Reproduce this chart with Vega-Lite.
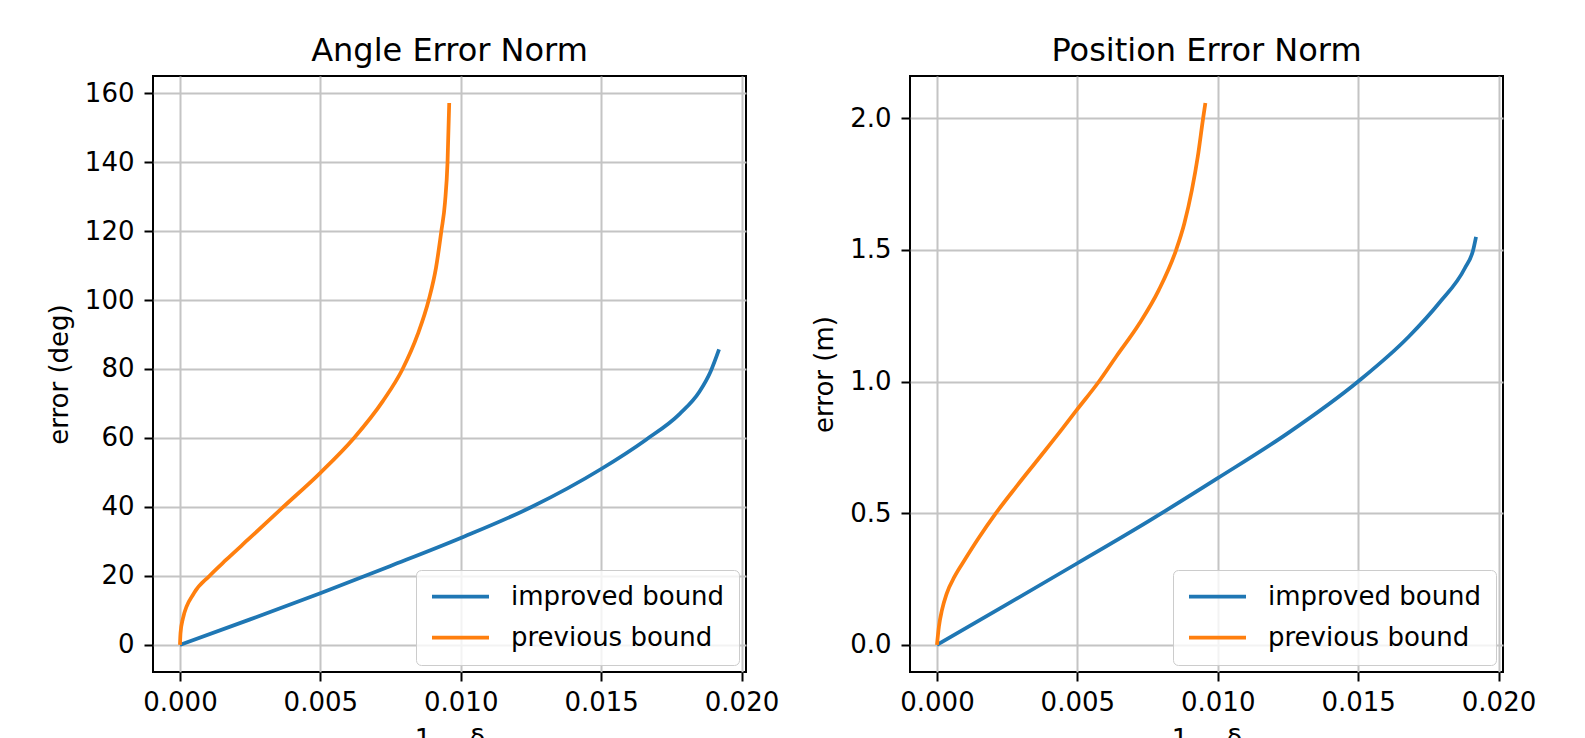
{
  "$schema": "https://vega.github.io/schema/vega-lite/v6.json",
  "padding": {"left": 45, "top": 34, "right": 5, "bottom": 0},
  "background": "white",
  "datasets": {
    "angle": [
      {"series": "improved bound", "x": 0, "y": 0},
      {"series": "improved bound", "x": 0.0025, "y": 7.4},
      {"series": "improved bound", "x": 0.005, "y": 15.0},
      {"series": "improved bound", "x": 0.0075, "y": 22.9},
      {"series": "improved bound", "x": 0.010, "y": 31.0},
      {"series": "improved bound", "x": 0.0125, "y": 39.9},
      {"series": "improved bound", "x": 0.015, "y": 51.0},
      {"series": "improved bound", "x": 0.0166, "y": 59.5},
      {"series": "improved bound", "x": 0.0178, "y": 67.0},
      {"series": "improved bound", "x": 0.0185, "y": 73.4},
      {"series": "improved bound", "x": 0.0189, "y": 79.3},
      {"series": "improved bound", "x": 0.0192, "y": 85.7},
      {"series": "previous bound", "x": 0, "y": 0},
      {"series": "previous bound", "x": 0.00002, "y": 3.4},
      {"series": "previous bound", "x": 0.0001, "y": 7.5},
      {"series": "previous bound", "x": 0.0005, "y": 15.0},
      {"series": "previous bound", "x": 0.00105, "y": 20.0},
      {"series": "previous bound", "x": 0.00165, "y": 24.7},
      {"series": "previous bound", "x": 0.00249, "y": 31.0},
      {"series": "previous bound", "x": 0.00368, "y": 40.0},
      {"series": "previous bound", "x": 0.005, "y": 49.9},
      {"series": "previous bound", "x": 0.0062, "y": 60.0},
      {"series": "previous bound", "x": 0.00722, "y": 70.6},
      {"series": "previous bound", "x": 0.00793, "y": 80.0},
      {"series": "previous bound", "x": 0.00847, "y": 90.1},
      {"series": "previous bound", "x": 0.00886, "y": 100.0},
      {"series": "previous bound", "x": 0.00912, "y": 109.4},
      {"series": "previous bound", "x": 0.00931, "y": 120.0},
      {"series": "previous bound", "x": 0.00944, "y": 128.3},
      {"series": "previous bound", "x": 0.00953, "y": 140.0},
      {"series": "previous bound", "x": 0.00959, "y": 157.1}
    ],
    "position": [
      {"series": "improved bound", "x": 0, "y": 0},
      {"series": "improved bound", "x": 0.00246, "y": 0.152},
      {"series": "improved bound", "x": 0.005, "y": 0.31},
      {"series": "improved bound", "x": 0.00754, "y": 0.47},
      {"series": "improved bound", "x": 0.010, "y": 0.633},
      {"series": "improved bound", "x": 0.0125, "y": 0.804},
      {"series": "improved bound", "x": 0.015, "y": 1.0},
      {"series": "improved bound", "x": 0.0168, "y": 1.17},
      {"series": "improved bound", "x": 0.0179, "y": 1.3},
      {"series": "improved bound", "x": 0.0188, "y": 1.43},
      {"series": "improved bound", "x": 0.0191, "y": 1.5},
      {"series": "improved bound", "x": 0.0192, "y": 1.549},
      {"series": "previous bound", "x": 0, "y": 0},
      {"series": "previous bound", "x": 0.00007, "y": 0.07},
      {"series": "previous bound", "x": 0.00018, "y": 0.133},
      {"series": "previous bound", "x": 0.00035, "y": 0.196},
      {"series": "previous bound", "x": 0.00063, "y": 0.26},
      {"series": "previous bound", "x": 0.00099, "y": 0.323},
      {"series": "previous bound", "x": 0.00145, "y": 0.4},
      {"series": "previous bound", "x": 0.0021, "y": 0.5},
      {"series": "previous bound", "x": 0.00282, "y": 0.6},
      {"series": "previous bound", "x": 0.00359, "y": 0.703},
      {"series": "previous bound", "x": 0.00444, "y": 0.817},
      {"series": "previous bound", "x": 0.00498, "y": 0.892},
      {"series": "previous bound", "x": 0.00577, "y": 1.0},
      {"series": "previous bound", "x": 0.00638, "y": 1.094},
      {"series": "previous bound", "x": 0.00721, "y": 1.22},
      {"series": "previous bound", "x": 0.0079, "y": 1.347},
      {"series": "previous bound", "x": 0.00852, "y": 1.5},
      {"series": "previous bound", "x": 0.00881, "y": 1.6},
      {"series": "previous bound", "x": 0.00908, "y": 1.727},
      {"series": "previous bound", "x": 0.00929, "y": 1.854},
      {"series": "previous bound", "x": 0.00948, "y": 2.0},
      {"series": "previous bound", "x": 0.00956, "y": 2.057}
    ]
  },
  "hconcat": [
    {
      "width": 593,
      "height": 596,
      "title": {"text": "Angle Error Norm"},
      "data": {"name": "angle"},
      "mark": {"type": "line", "strokeWidth": 3.75, "clip": true, "interpolate": "monotone"},
      "encoding": {
        "x": {
          "field": "x", "type": "quantitative", "title": "1 − δ",
          "scale": {"domain": [-0.00096, 0.02016], "nice": false, "zero": false},
          "axis": {"values": [0, 0.005, 0.01, 0.015, 0.02], "format": ".3f"}
        },
        "y": {
          "field": "y", "type": "quantitative", "title": "error (deg)",
          "scale": {"domain": [-7.855, 164.955], "nice": false, "zero": false},
          "axis": {"values": [0, 20, 40, 60, 80, 100, 120, 140, 160], "format": "d"}
        },
        "color": {
          "field": "series", "type": "nominal",
          "scale": {"domain": ["improved bound", "previous bound"], "range": ["#1f77b4", "#ff7f0e"]},
          "legend": {"orient": "bottom-right", "offset": 7, "title": null}
        }
      }
    },
    {
      "width": 593,
      "height": 596,
      "title": {"text": "Position Error Norm"},
      "data": {"name": "position"},
      "mark": {"type": "line", "strokeWidth": 3.75, "clip": true, "interpolate": "monotone"},
      "encoding": {
        "x": {
          "field": "x", "type": "quantitative", "title": "1 − δ",
          "scale": {"domain": [-0.00096, 0.02016], "nice": false, "zero": false},
          "axis": {"values": [0, 0.005, 0.01, 0.015, 0.02], "format": ".3f"}
        },
        "y": {
          "field": "y", "type": "quantitative", "title": "error (m)",
          "scale": {"domain": [-0.10285, 2.15985], "nice": false, "zero": false},
          "axis": {"values": [0, 0.5, 1.0, 1.5, 2.0], "format": ".1f"}
        },
        "color": {
          "field": "series", "type": "nominal",
          "scale": {"domain": ["improved bound", "previous bound"], "range": ["#1f77b4", "#ff7f0e"]},
          "legend": {"orient": "bottom-right", "offset": 7, "title": null}
        }
      }
    }
  ],
  "spacing": 164,
  "bounds": "flush",
  "resolve": {"scale": {"color": "independent"}, "legend": {"color": "independent"}},
  "config": {
    "font": "DejaVu Sans",
    "view": {"stroke": "black", "strokeWidth": 2},
    "title": {"fontSize": 32, "fontWeight": "normal", "color": "black", "anchor": "middle", "offset": 8},
    "axis": {
      "domain": false,
      "labelFontSize": 26,
      "titleFontSize": 26,
      "titleFontWeight": "normal",
      "labelColor": "black",
      "titleColor": "black",
      "tickColor": "black",
      "tickWidth": 2,
      "tickSize": 9,
      "gridColor": "#c4c4c4",
      "gridWidth": 2,
      "labelFont": "DejaVu Sans",
      "titleFont": "DejaVu Sans"
    },
    "axisX": {"labelPadding": 8, "titlePadding": 11},
    "axisY": {"labelPadding": 10, "titlePadding": 12},
    "legend": {
      "symbolType": "stroke",
      "symbolSize": 3249,
      "symbolStrokeWidth": 3.75,
      "labelFontSize": 26,
      "labelFont": "DejaVu Sans",
      "labelColor": "black",
      "labelLimit": 500,
      "padding": 14,
      "rowPadding": 14,
      "clipHeight": 25,
      "labelOffset": 20,
      "strokeColor": "#cccccc",
      "fillColor": "rgba(255,255,255,0.8)",
      "cornerRadius": 5
    }
  }
}
